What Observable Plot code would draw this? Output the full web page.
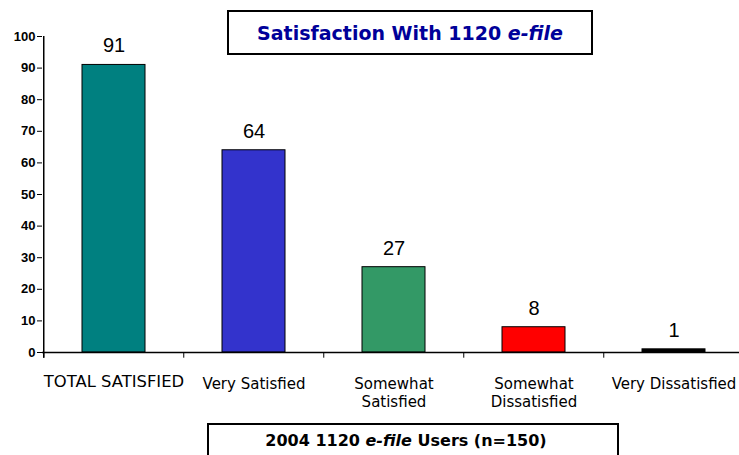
<!DOCTYPE html>
<html>
<head>
<meta charset="utf-8">
<script src="https://cdn.jsdelivr.net/npm/d3@7"></script>
<script src="https://cdn.jsdelivr.net/npm/@observablehq/plot@0.6"></script>
<style>
  html, body { margin: 0; padding: 0; background: #fff; }
  #wrap { position: relative; width: 739px; height: 455px; overflow: hidden; }
  .box { position: absolute; box-sizing: border-box; border: 2px solid #000; background: #fff;
         display: flex; align-items: center; justify-content: center; font-weight: bold; white-space: nowrap; }
  #title { left: 227px; top: 10px; width: 366px; height: 45px; color: #000099;
           font-family: "DejaVu Sans", sans-serif; font-size: 19px; }
  #caption { left: 207px; top: 423px; width: 412px; height: 40px; color: #000; align-items: flex-start;
             padding-top: 6px; padding-right: 14px; font-family: "DejaVu Sans", sans-serif; font-size: 16px; }
</style>
</head>
<body>
<div id="wrap">
  <div id="chart"></div>
  <div id="title" class="box"><span>Satisfaction With 1120&nbsp;<i>e-file</i></span></div>
  <div id="caption" class="box"><span>2004 1120 <i>e-file</i> Users (n=150)</span></div>
</div>
<script>
const categories = ["TOTAL SATISFIED", "Very Satisfied", "Somewhat Satisfied", "Somewhat Dissatisfied", "Very Dissatisfied"];
const tickLabels = ["TOTAL SATISFIED", "Very Satisfied", "Somewhat\nSatisfied", "Somewhat\nDissatisfied", "Very Dissatisfied"];
const values = [91, 64, 27, 8, 1];
const colors = ["#008080", "#3333CC", "#339966", "#FF0000", "#000000"];
const yTicks = [0, 10, 20, 30, 40, 50, 60, 70, 80, 90, 100];

const data = categories.map((c, i) => ({category: c, value: values[i], color: colors[i]}));
const labelOf = new Map(categories.map((c, i) => [c, tickLabels[i]]));

const xRange = [42, 744.5];
const step = (xRange[1] - xRange[0]) / categories.length;

const chart = Plot.plot({
  width: 739,
  height: 455,
  marginLeft: 42,
  marginRight: 0,
  marginTop: 36,
  marginBottom: 103,
  style: {fontFamily: "DejaVu Sans, sans-serif", background: "transparent", overflow: "visible"},
  x: {domain: categories, range: xRange, paddingInner: 0.55, paddingOuter: 0.275, label: null},
  y: {domain: [0, 100], label: null},
  marks: [
    Plot.axisY({ticks: yTicks, tickSize: 5, tickPadding: 2, fontSize: 13, fontWeight: "bold", label: null,
                fontFamily: "Liberation Sans, Arial, sans-serif", fill: "#000", color: "#000"}),
    Plot.axisX({ticks: categories.slice(1), tickSize: 0, tickPadding: 23, fontSize: 15, lineHeight: 1.22,
                tickFormat: d => labelOf.get(d), fill: "#000", label: null}),
    Plot.axisX({ticks: categories.slice(0, 1), tickSize: 0, tickPadding: 22.5, fontSize: 16.4,
                tickFormat: d => labelOf.get(d), fill: "#000", label: null}),
    Plot.barY(data, {x: "category", y: "value", fill: "color", stroke: "#000", strokeWidth: 1}),
    Plot.ruleY([0], {stroke: "#000", strokeWidth: 1.5}),
    Plot.ruleX(categories, {x: d => d, dx: -step / 2, y1: 0, y2: -1.8, stroke: "#000", strokeWidth: 1}),
    Plot.ruleX([categories[0]], {x: d => d, dx: -step / 2, y1: -1.8, y2: 100, stroke: "#000", strokeWidth: 1.5}),
    Plot.text(data, {x: "category", y: "value", text: d => String(d.value), dy: -19, fontSize: 20,
                     fontFamily: "Liberation Sans, Arial, sans-serif", fill: "#000"})
  ]
});
document.getElementById("chart").appendChild(chart);
</script>
</body>
</html>
